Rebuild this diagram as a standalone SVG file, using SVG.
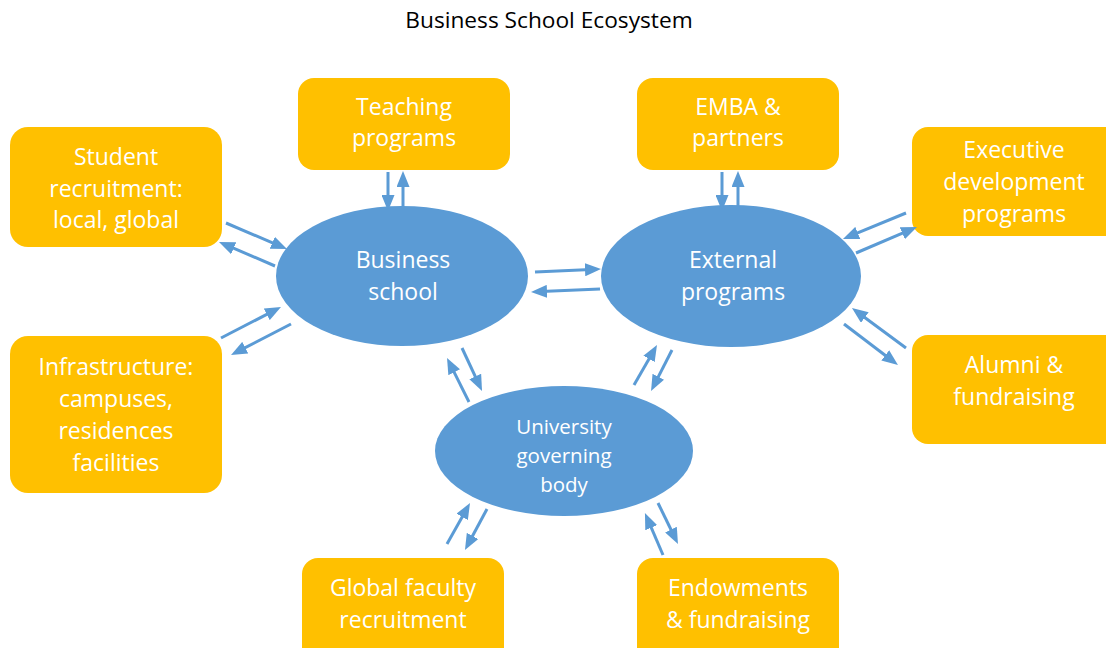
<svg xmlns="http://www.w3.org/2000/svg" width="1106" height="648" viewBox="0 0 1106 648">
<style>
.box{fill:#FFC000}
.ell{fill:#5B9BD5}
.t{font-family:"Open Sans","Noto Sans",sans-serif;font-size:23px;fill:#fff;text-anchor:middle}
.ts{font-family:"Open Sans","Noto Sans",sans-serif;font-size:20.5px;fill:#fff;text-anchor:middle}
.title{font-family:"Open Sans","Noto Sans",sans-serif;font-size:22.7px;fill:#000;text-anchor:middle}
.c line{stroke:#5B9BD5;stroke-width:3;marker-end:url(#ah)}
</style>
<defs>
<marker id="ah" markerUnits="userSpaceOnUse" markerWidth="16" markerHeight="13" refX="6" refY="6.5" orient="auto">
<path d="M0,0 L16,6.5 L0,13 z" fill="#5B9BD5"/>
</marker>
</defs>
<rect width="1106" height="648" fill="#fff"/>
<text class="title" x="549" y="28">Business School Ecosystem</text>

<g id="student">
<rect class="box" x="10" y="127" width="212" height="120" rx="18"/>
<text class="t" x="116" y="165">Student</text>
<text class="t" x="116" y="197">recruitment:</text>
<text class="t" x="116" y="228">local, global</text>
</g>
<g id="infra">
<rect class="box" x="10" y="336" width="212" height="157" rx="18"/>
<text class="t" x="116" y="375">Infrastructure:</text>
<text class="t" x="116" y="407">campuses,</text>
<text class="t" x="116" y="439">residences</text>
<text class="t" x="116" y="471">facilities</text>
</g>
<g id="teaching">
<rect class="box" x="298" y="78" width="212" height="92" rx="16"/>
<text class="t" x="404" y="115">Teaching</text>
<text class="t" x="404" y="146">programs</text>
</g>
<g id="emba">
<rect class="box" x="637" y="78" width="202" height="92" rx="16"/>
<text class="t" x="738" y="115">EMBA &amp;</text>
<text class="t" x="738" y="146">partners</text>
</g>
<g id="executive">
<rect class="box" x="912" y="127" width="210" height="109" rx="16"/>
<text class="t" x="1014" y="158">Executive</text>
<text class="t" x="1014" y="190">development</text>
<text class="t" x="1014" y="222">programs</text>
</g>
<g id="alumni">
<rect class="box" x="912" y="335" width="210" height="109" rx="16"/>
<text class="t" x="1014" y="373">Alumni &amp;</text>
<text class="t" x="1014" y="405">fundraising</text>
</g>
<g id="faculty">
<rect class="box" x="302" y="558" width="202" height="110" rx="16"/>
<text class="t" x="403" y="596">Global faculty</text>
<text class="t" x="403" y="628">recruitment</text>
</g>
<g id="endowments">
<rect class="box" x="637" y="558" width="202" height="110" rx="16"/>
<text class="t" x="738" y="596">Endowments</text>
<text class="t" x="738" y="628">&amp; fundraising</text>
</g>

<g id="business">
<ellipse class="ell" cx="402" cy="276" rx="126" ry="70"/>
<text class="t" x="403" y="268">Business</text>
<text class="t" x="403" y="300">school</text>
</g>
<g id="external">
<ellipse class="ell" cx="731" cy="276" rx="130" ry="71"/>
<text class="t" x="733" y="268">External</text>
<text class="t" x="733" y="300">programs</text>
</g>
<g id="university">
<ellipse class="ell" cx="564" cy="451" rx="129" ry="65"/>
<text class="ts" x="564" y="434">University</text>
<text class="ts" x="564" y="463">governing</text>
<text class="ts" x="564" y="492">body</text>
</g>

<g id="connectors" class="c">
<line x1="226" y1="223" x2="277.8" y2="245.1"/>
<line x1="275" y1="266" x2="228.2" y2="245.9"/>
<line x1="221" y1="338" x2="272.1" y2="311.6"/>
<line x1="291" y1="324" x2="239.9" y2="350.4"/>
<line x1="388" y1="172" x2="388" y2="201"/>
<line x1="403" y1="210" x2="403" y2="181"/>
<line x1="722" y1="172" x2="722" y2="201"/>
<line x1="738" y1="210" x2="738" y2="181"/>
<line x1="535" y1="272" x2="591" y2="269.5"/>
<line x1="600" y1="289" x2="541" y2="291.6"/>
<line x1="906" y1="213" x2="852.2" y2="235.2"/>
<line x1="856" y1="253" x2="907.8" y2="230.9"/>
<line x1="906" y1="348" x2="860" y2="314"/>
<line x1="844" y1="324" x2="890" y2="359"/>
<line x1="469" y1="402" x2="451.5" y2="366.9"/>
<line x1="462" y1="348" x2="477.8" y2="381.9"/>
<line x1="634" y1="385" x2="652" y2="353.7"/>
<line x1="672" y1="350" x2="655.6" y2="382.1"/>
<line x1="447" y1="544" x2="465.1" y2="511.7"/>
<line x1="487" y1="509" x2="469.7" y2="541.2"/>
<line x1="663" y1="555" x2="648.9" y2="522.2"/>
<line x1="658" y1="503" x2="673.6" y2="535"/>
</g>
</svg>
